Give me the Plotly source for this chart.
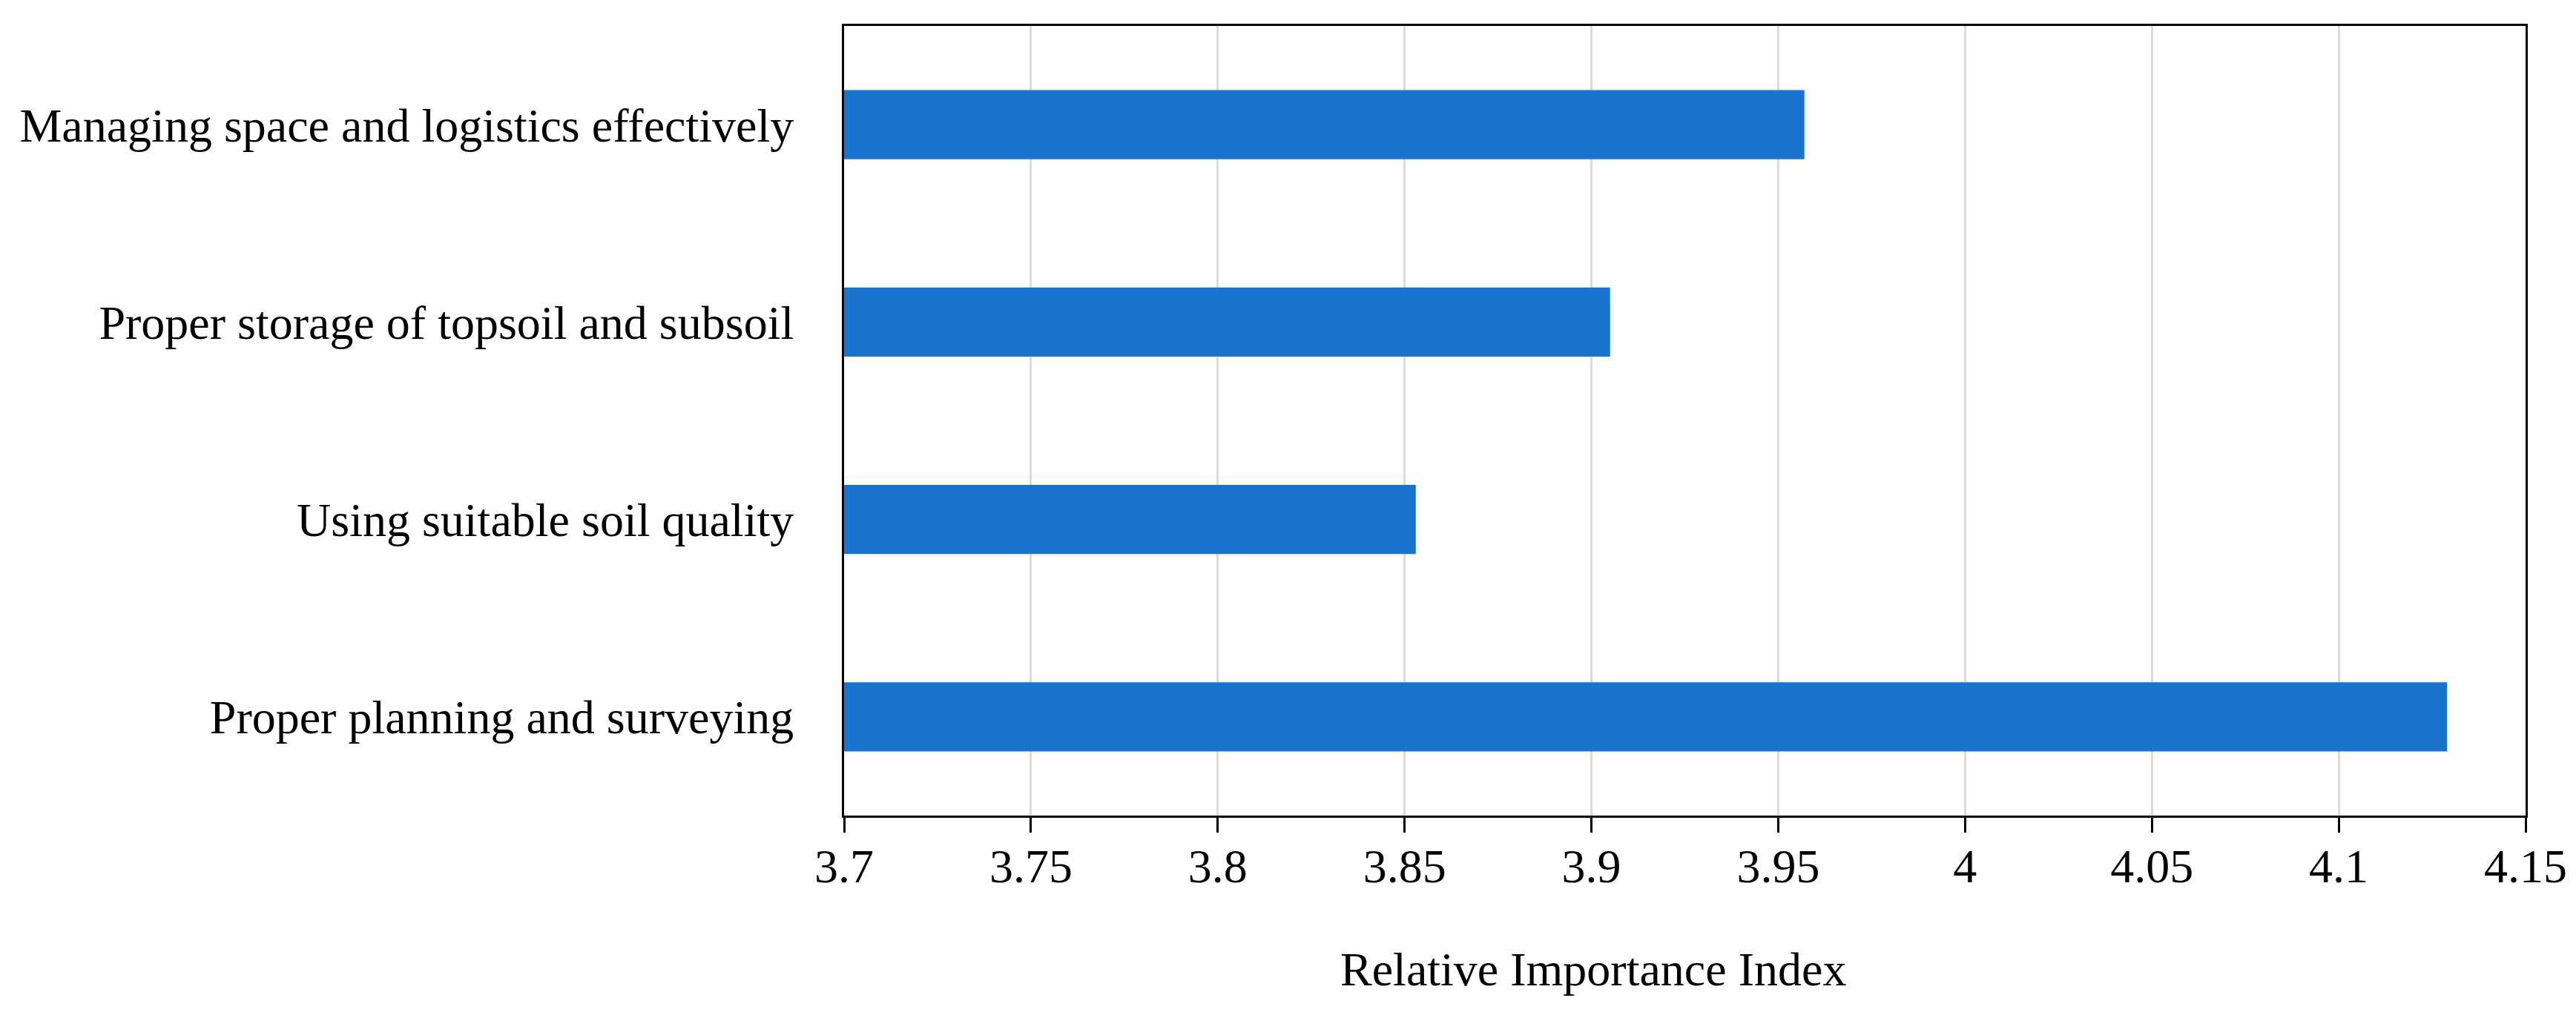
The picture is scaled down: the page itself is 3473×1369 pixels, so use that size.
import plotly.graph_objects as go

categories = [
    "Proper planning and surveying",
    "Using suitable soil quality",
    "Proper storage of topsoil and subsoil",
    "Managing space and logistics effectively",
]
rii_values = [4.129, 3.853, 3.905, 3.957]
x_tick_vals = [3.7, 3.75, 3.8, 3.85, 3.9, 3.95, 4.0, 4.05, 4.1, 4.15]
x_tick_text = ["3.7", "3.75", "3.8", "3.85", "3.9", "3.95", "4", "4.05", "4.1", "4.15"]
x_title = "Relative Importance Index"

W, H = 3473, 1369
L, R, T, B = 1130, 3397, 27, 1092

fig = go.Figure()
fig.add_trace(go.Bar(
    x=rii_values, y=categories, orientation="h",
    marker=dict(color="#1874CD", line=dict(width=0)),
    width=0.35,
))

font = dict(family="Liberation Serif, Times New Roman, serif", size=64, color="black")

fig.update_layout(
    width=W, height=H,
    margin=dict(l=L, r=W - R, t=T, b=H - B, pad=0),
    paper_bgcolor="white", plot_bgcolor="white",
    showlegend=False,
    font=font,
    bargap=0.65,
)
fig.update_xaxes(
    range=[3.7, 4.15],
    tickvals=x_tick_vals, ticktext=x_tick_text,
    showgrid=True, gridcolor="#dcdcdc", gridwidth=3,
    showline=True, linecolor="black", linewidth=3, mirror=True,
    ticks="outside", ticklen=20, tickwidth=3, tickcolor="black",
    ticklabelstandoff=-10,
    tickfont=font, zeroline=False,
)
fig.update_yaxes(
    showgrid=False,
    showline=True, linecolor="black", linewidth=3, mirror=True,
    ticks="", ticklabelstandoff=52,
    tickfont=font, zeroline=False,
)
fig.add_annotation(
    text=x_title, xref="paper", yref="paper",
    x=(2140 - L) / (R - L), y=-(1300 - B) / (B - T),
    xanchor="center", yanchor="middle", showarrow=False, font=font,
)
fig.write_html("out.html")
